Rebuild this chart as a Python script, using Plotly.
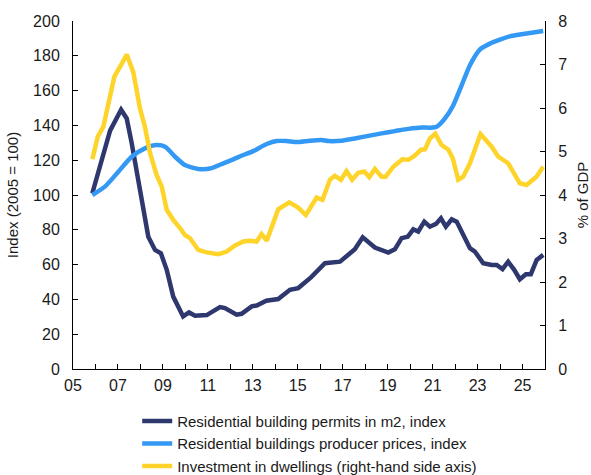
import plotly.graph_objects as go

# ---- Data (decimal years) ----
permits_x = [2005.86, 2006.2, 2006.65, 2007.14, 2007.39, 2007.61, 2007.9, 2008.35, 2008.65, 2008.91,
             2009.17, 2009.46, 2009.9, 2010.16, 2010.43, 2010.95, 2011.54, 2011.76, 2012.28, 2012.5,
             2012.95, 2013.17, 2013.6, 2014.13, 2014.65, 2015.02, 2015.6, 2016.21, 2016.88, 2017.17,
             2017.54, 2017.89, 2018.14, 2018.43, 2019.03, 2019.32, 2019.62, 2019.89, 2020.14, 2020.36,
             2020.63, 2020.88, 2021.15, 2021.37, 2021.59, 2021.85, 2022.07, 2022.36, 2022.66, 2022.88,
             2023.25, 2023.63, 2023.85, 2024.11, 2024.36, 2024.63, 2024.88, 2025.15, 2025.37, 2025.63,
             2025.92]
permits = [101, 116, 137, 149, 144, 130, 108.6, 76, 68.4, 66.5,
           57, 41.6, 30.2, 32.5, 30.6, 31, 35.6, 35, 31.2, 31.7,
           36, 36.5, 39.2, 40.2, 45.5, 46.5, 52.8, 60.8, 61.7, 65,
           68.8, 75.7, 73.2, 69.8, 66.9, 68.8, 75.2, 76, 80.3, 79,
           84.7, 81.8, 83.4, 86.6, 81.8, 86, 84.7, 77, 69.4, 67.5,
           60.8, 59.8, 59.8, 57.4, 61.7, 57, 51.6, 54.5, 54.5, 62.7,
           65.6]

prices_x = [2005.86, 2006.42, 2007.02, 2007.61, 2008.2, 2008.72, 2009.1, 2009.54, 2009.98, 2010.57,
            2011.1, 2011.69, 2012.13, 2012.58, 2013.02, 2013.62, 2014.06, 2014.5, 2014.95, 2015.54,
            2016.06, 2016.36, 2016.95, 2017.54, 2018.14, 2018.73, 2019.32, 2019.92, 2020.51, 2020.88,
            2021.18, 2021.55, 2021.92, 2022.29, 2022.66, 2023.1, 2023.55, 2023.99, 2024.44, 2024.88,
            2025.33, 2025.92]
prices = [100, 104.8, 113.4, 122, 126.8, 128.7, 127.7, 122, 117.2, 115,
          115.2, 118.2, 120.5, 123, 125.2, 129.3, 131, 131, 130.4, 131.2,
          131.6, 131, 131.2, 132.5, 134, 135.4, 136.7, 138, 138.8, 138.7,
          139.2, 144, 151.6, 163, 174.6, 183.6, 187, 189.3, 191.2, 192.2,
          193.1, 194.3]

invest_x = [2005.86, 2006.1, 2006.35, 2006.57, 2006.84, 2007.14, 2007.39, 2007.68, 2007.98, 2008.2,
            2008.43, 2008.72, 2008.95, 2009.17, 2009.46, 2009.76, 2009.98, 2010.2, 2010.57, 2010.95,
            2011.47, 2011.84, 2012.21, 2012.58, 2012.87, 2013.17, 2013.39, 2013.62, 2014.13, 2014.62,
            2015.02, 2015.36, 2015.84, 2016.1, 2016.43, 2016.65, 2016.92, 2017.17, 2017.42, 2017.69,
            2017.96, 2018.18, 2018.43, 2018.73, 2018.91, 2019.25, 2019.65, 2019.92, 2020.19, 2020.48,
            2020.66, 2020.88, 2021.12, 2021.4, 2021.7, 2021.9, 2022.14, 2022.36, 2022.66, 2023.13,
            2023.63, 2023.92, 2024.36, 2024.88, 2025.18, 2025.62, 2025.92]
invest = [4.82, 5.34, 5.57, 6.07, 6.72, 6.99, 7.23, 6.83, 5.99, 5.57,
          4.96, 4.46, 4.19, 3.66, 3.43, 3.24, 3.08, 3.01, 2.74, 2.68,
          2.64, 2.70, 2.84, 2.93, 2.95, 2.93, 3.10, 2.95, 3.67, 3.83,
          3.71, 3.54, 3.94, 3.89, 4.35, 4.44, 4.35, 4.55, 4.35, 4.51,
          4.54, 4.41, 4.60, 4.42, 4.42, 4.65, 4.82, 4.81, 4.90, 5.04,
          5.05, 5.30, 5.41, 5.15, 5.04, 4.84, 4.35, 4.42, 4.73, 5.40,
          5.11, 4.88, 4.73, 4.27, 4.23, 4.42, 4.65]

years = list(range(2005, 2027))
year_labels = [f"{y % 100:02d}" if y % 2 == 1 else "" for y in years]

NAVY = "#2f386e"
BLUE = "#3399f5"
YELLOW = "#ffd42a"
FONT = "Liberation Sans"

fig = go.Figure()
fig.add_trace(go.Scatter(x=permits_x, y=permits, mode="lines", name="Residential building permits in m2, index",
                         line=dict(color=NAVY, width=4.5)))
fig.add_trace(go.Scatter(x=prices_x, y=prices, mode="lines", name="Residential buildings producer prices, index",
                         line=dict(color=BLUE, width=4.5, shape="spline", smoothing=0.6)))
fig.add_trace(go.Scatter(x=invest_x, y=invest, mode="lines", name="Investment in dwellings (right-hand side axis)",
                         line=dict(color=YELLOW, width=4.5), yaxis="y2"))

axis_common = dict(showline=True, linecolor="#000000", linewidth=1, ticks="inside", ticklen=5,
                   tickcolor="#000000", showgrid=False, zeroline=False,
                   tickfont=dict(family=FONT, size=16, color="#1a1a1a"))

fig.update_layout(
    width=591, height=475,
    margin=dict(l=73, r=46, t=21, b=106, autoexpand=False),
    paper_bgcolor="white", plot_bgcolor="white",
    font=dict(family=FONT, size=15, color="#1a1a1a"),
    xaxis=dict(range=[2005, 2026], tickmode="array", tickvals=years, ticktext=year_labels,
               ticklabelstandoff=2, **axis_common),
    yaxis=dict(range=[0, 200], dtick=20, tickmode="linear", tick0=0, ticklabelstandoff=9,
               title=dict(text="Index (2005 = 100)", font=dict(family=FONT, size=15), standoff=10),
               **axis_common),
    yaxis2=dict(range=[0, 8], dtick=1, tickmode="linear", tick0=0, overlaying="y", side="right",
                ticklabelstandoff=9,
                title=dict(text="% of GDP", font=dict(family=FONT, size=15), standoff=16),
                **axis_common),
    legend=dict(orientation="v", x=0.136, xanchor="left", y=-0.103, yanchor="top",
                font=dict(family=FONT, size=15), tracegroupgap=0, itemwidth=30,
                bgcolor="rgba(0,0,0,0)"),
    showlegend=True,
)

fig.write_html("out.html", config={"displayModeBar": False},
               post_script="document.body.style.margin='0';")
